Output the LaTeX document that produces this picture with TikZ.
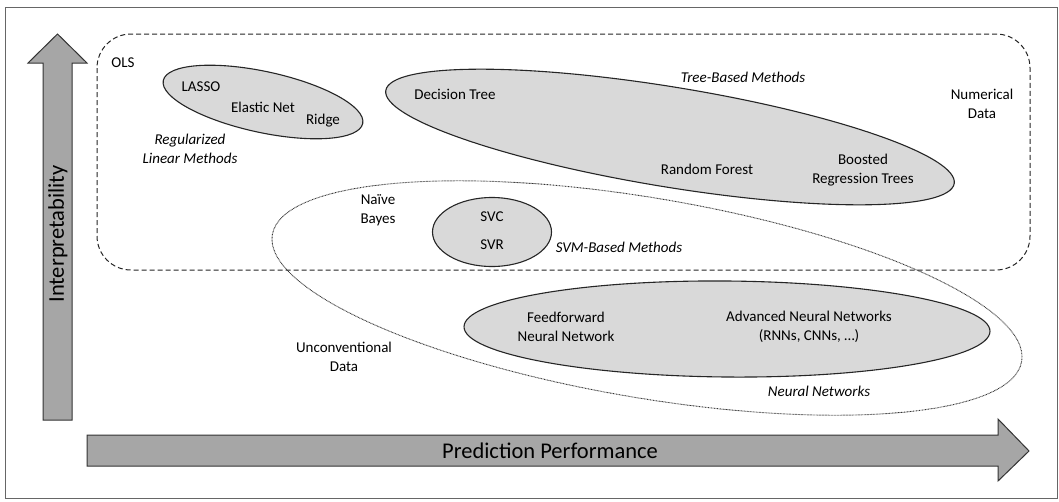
\documentclass[tikz,border=0pt]{standalone}
\usepackage{fontspec}
\setmainfont{Carlito}
\usetikzlibrary{shapes.geometric}
\begin{document}
\begin{tikzpicture}[x=1pt,y=-1pt,
  lbl/.style={inner sep=0pt,align=center,font=\fontsize{15}{19}\selectfont},
  ilbl/.style={lbl,font=\fontsize{15}{19}\selectfont\itshape},
  big/.style={inner sep=0pt,font=\fontsize{22.5}{26}\selectfont},
  group/.style={ellipse,draw=black!85,line width=1.1pt,fill=black!15,inner sep=0pt,outer sep=0pt},
  bigarrow/.style={draw=black!80,line width=1pt,fill=black!35,line join=miter},
  dotline/.style={draw=black!80,line width=0.9pt,dash pattern=on 0.8pt off 0.7pt},
  dashline/.style={draw=black!85,line width=1pt,dash pattern=on 5pt off 3pt}]
\useasboundingbox (0,0) rectangle (1059,501);
\fill[white] (0,0) rectangle (1059,501);
\draw[draw=black!60,line width=1pt] (5,7) rectangle (1057,498);

% arrows
\draw[bigarrow] (43,420) -- (43,63) -- (28,63) -- (57.5,34) -- (87,63) -- (72,63) -- (72,420) -- cycle;
\draw[bigarrow] (87,435) -- (998,435) -- (998,419) -- (1029,451) -- (998,481) -- (998,466) -- (87,466) -- cycle;
\node[big,rotate=90] (interp) at (58,234) {Interpretability};
\node[big] (pred) at (550,451) {Prediction Performance};

% numerical data region
\draw[dashline,rounded corners=34pt] (97,34) rectangle (1030,270);

% unconventional data region
\node[ellipse,dotline,inner sep=0pt,minimum width=760pt,minimum height=200pt,rotate=-9.6] (uncon) at (647,298) {};

% method groups
\node[group,minimum width=204pt,minimum height=61pt,rotate=-12.2] (lasso) at (263,102) {};
\node[group,minimum width=576pt,minimum height=100pt,rotate=-9.3] (tree) at (670,137) {};
\node[group,minimum width=119pt,minimum height=69pt] (svm) at (492,232) {};
\node[group,minimum width=526pt,minimum height=96pt,rotate=-0.5] (nn) at (727,329) {};

% labels
\node[lbl] (ols) at (123,63) {OLS};
\node[lbl] (lassot) at (201,87) {LASSO};
\node[lbl] (enet) at (263,107) {Elastic Net};
\node[lbl] (ridge) at (323,121) {Ridge};
\node[ilbl] (reg) at (190,148.5) {Regularized\\Linear Methods};
\node[ilbl] (treet) at (743,77) {Tree-Based Methods};
\node[lbl] (dtree) at (455,94) {Decision Tree};
\node[lbl] (rf) at (707,169) {Random Forest};
\node[lbl] (brt) at (863,170) {Boosted\\Regression Trees};
\node[lbl] (num) at (982,103.5) {Numerical\\Data};
\node[lbl] (nb) at (378,210.5) {Naïve\\Bayes};
\node[lbl] (svc) at (492,217) {SVC};
\node[lbl] (svr) at (492,245) {SVR};
\node[ilbl] (svmt) at (619,247) {SVM-Based Methods};
\node[lbl] (ffnn) at (566,326.5) {Feedforward\\Neural Network};
\node[lbl] (ann) at (809,326.5) {Advanced Neural Networks\\(RNNs, CNNs, …)};
\node[lbl] (uncont) at (344,356.5) {Unconventional\\Data};
\node[ilbl] (nnt) at (819,391) {Neural Networks};
\end{tikzpicture}
\end{document}
